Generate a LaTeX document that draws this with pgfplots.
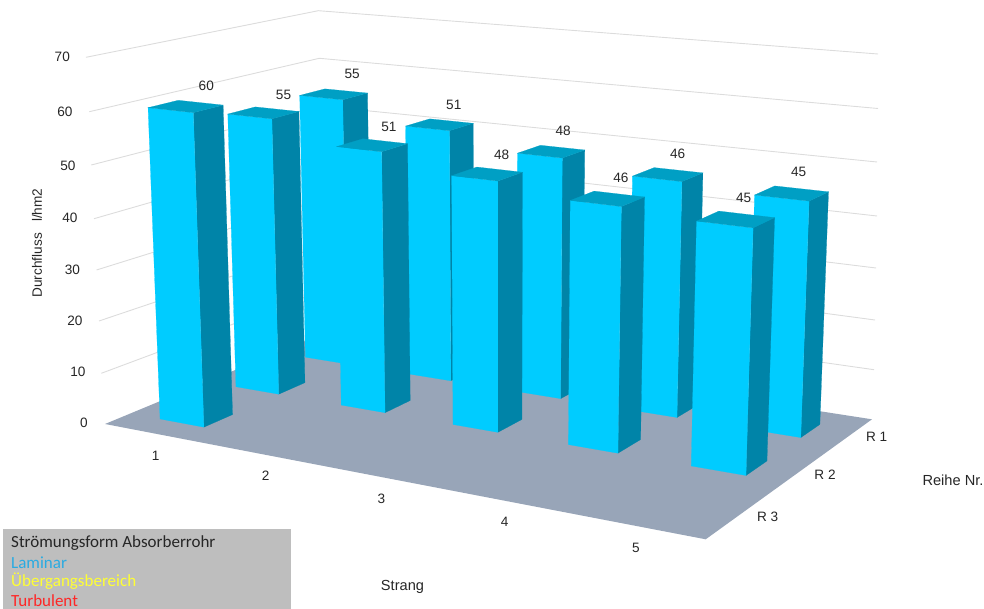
\documentclass[border=0pt]{standalone}
\usepackage{pgfplots}
\pgfplotsset{compat=1.18}
\usepackage{fontspec}
\setmainfont{Liberation Sans}
\newfontfamily\legendfont{Carlito}

\definecolor{barfront}{HTML}{00CCFF}
\definecolor{barside}{HTML}{0084A8}
\definecolor{bartop}{HTML}{009FC4}
\definecolor{floorcol}{HTML}{98A5B8}
\definecolor{gridcol}{HTML}{DCDCDC}
\definecolor{textcol}{HTML}{262626}
\definecolor{legendbg}{HTML}{BEBEBE}

\tikzset{
  lab/.style={font=\fontsize{13.6}{15}\selectfont, text=textcol, inner sep=0pt, anchor=center},
  ttl/.style={font=\fontsize{14.6}{16}\selectfont, text=textcol, inner sep=0pt, anchor=center},
  leg/.style={font=\legendfont\fontsize{17}{19}\selectfont, inner sep=0pt, anchor=west},
}

% Perspective projection of a chart position: u along the strands (0..1),
% w along the rows (0 front .. 1 back), t = value/70 as height.
\newcommand\project[5]{%
  \pgfmathsetmacro\projW{-0.15184*#1+0.13809*#2+1-0.04*#3}%
  \pgfmathsetmacro#4{(493.55*#1+261.47*#2+105-20*#3)/\projW}%
  \pgfmathsetmacro#5{(33.41*#1-43.88*#2+424-(370-8*#1)*#3)/\projW}%
}
\newcommand\face[9]{%
  \edef\facecmd{\noexpand\addplot[fill=#1, draw=#1, line width=0.2pt]
    coordinates {(#2,#3) (#4,#5) (#6,#7) (#8,#9)} --cycle;}\facecmd}

% One column: strand, row (1 = R 1 at the back), value, label shift right and down
\newcommand\column[5]{%
  \pgfmathsetmacro\uc{(#1-0.5)/5+0.003}%
  \pgfmathsetmacro\wc{(3.5-#2)/3}%
  \pgfmathsetmacro\ul{\uc-0.039-0.003*abs(#1-3)}\pgfmathsetmacro\ur{\uc+0.039}%
  \pgfmathsetmacro\wf{\wc-0.062}\pgfmathsetmacro\wb{\wc+0.062}%
  \pgfmathsetmacro\tv{#3/70}%
  \project{\ul}{\wf}{0}\ax\ay \project{\ur}{\wf}{0}\bx\by \project{\ur}{\wb}{0}\cx\cy
  \project{\ul}{\wf}{\tv}\dx\dy \project{\ur}{\wf}{\tv}\ex\ey
  \project{\ur}{\wb}{\tv}\fx\fy \project{\ul}{\wb}{\tv}\gx\gy
  \project{\uc}{\wc}{\tv}\hx\hy
  \face{barside}{\bx}{\by}{\cx}{\cy}{\fx}{\fy}{\ex}{\ey}%
  \face{barfront}{\ax}{\ay}{\bx}{\by}{\ex}{\ey}{\dx}{\dy}%
  \face{bartop}{\dx}{\dy}{\ex}{\ey}{\fx}{\fy}{\gx}{\gy}%
  \pgfmathsetmacro\lx{\hx+#4}\pgfmathsetmacro\ly{\hy-21+#5}%
  \edef\labcmd{\noexpand\node[lab] at (axis cs:\lx,\ly) {#3};}\labcmd
}
% Wall grid line for one value level
\newcommand\gridlevel[6]{%
  \addplot[gridcol, line width=0.9pt] coordinates {(#1,#2) (#3,#4) (#5,#6)};}

\begin{document}
\begin{tikzpicture}
\begin{axis}[
  scale only axis, width=984pt, height=609pt,
  xmin=0, xmax=984, ymin=0, ymax=609, y dir=reverse,
  hide axis, clip=false,
]
\path (axis cs:0,0) rectangle (axis cs:984,609);

% Walls
\gridlevel{86}{57.3}{318.3}{10.7}{878}{54}
\gridlevel{89.3}{111.7}{319.3}{58.3}{878}{108.5}
\gridlevel{91.3}{165}{320}{106}{877}{162}
\gridlevel{94}{218.7}{320.5}{153.5}{877}{216}
\gridlevel{96.5}{270}{321}{200}{876}{268}
\gridlevel{99}{321}{321.3}{246}{875}{320}
\gridlevel{101.3}{373.3}{321.7}{291}{874}{369.7}

% Floor
\addplot[fill=floorcol, draw=none] coordinates {(105,424) (705.7,539.3) (872,419.3) (322,334)} --cycle;

% Columns from the back row to the front: strand, row, value, label shifts
\column{1}{1}{55}{17}{1}
\column{2}{1}{51}{13.5}{1}
\column{3}{1}{48}{12}{0}
\column{4}{1}{46}{9}{0}
\column{5}{1}{45}{5}{-1}
\column{1}{2}{55}{18.5}{3}
\column{2}{2}{51}{16}{3}
\column{3}{2}{48}{14.5}{2}
\column{4}{2}{46}{12.5}{0}
\column{5}{2}{45}{6}{-1}
\column{1}{3}{60}{19}{0}

% Value axis
\node[lab] at (axis cs:62.3,57.3) {70};
\node[lab] at (axis cs:65,112) {60};
\node[lab] at (axis cs:68,165.7) {50};
\node[lab] at (axis cs:70,218.3) {40};
\node[lab] at (axis cs:72.5,270) {30};
\node[lab] at (axis cs:75,321) {20};
\node[lab] at (axis cs:78,372) {10};
\node[lab] at (axis cs:84,423) {0};
\node[lab, rotate=90] at (axis cs:37,243) {Durchfluss\ \ \ l/hm2};

% Strand axis
\node[lab] at (axis cs:155.7,456) {1};
\node[lab] at (axis cs:265.7,476) {2};
\node[lab] at (axis cs:381.3,499) {3};
\node[lab] at (axis cs:504.7,522.3) {4};
\node[lab] at (axis cs:636,548.3) {5};
\node[ttl] at (axis cs:402.5,587) {Strang};

% Row axis
\node[lab] at (axis cs:876.7,437.3) {R 1};
\node[lab] at (axis cs:825,475) {R 2};
\node[lab] at (axis cs:767.7,516.7) {R 3};
\node[ttl] at (axis cs:953,480) {Reihe Nr.};

% Flow regime box
\addplot[fill=legendbg, draw=none] coordinates {(3,529) (291,529) (291,609) (3,609)} --cycle;
\node[leg, text=black!85] at (axis cs:11,543) {Strömungsform Absorberrohr};
\node[leg, text={rgb,255:red,41;green,171;blue,226}] at (axis cs:11,563) {Laminar};
\node[leg, text={rgb,255:red,255;green,255;blue,51}] at (axis cs:11,581.5) {Übergangsbereich};
\node[leg, text={rgb,255:red,255;green,38;blue,38}] at (axis cs:11,600.5) {Turbulent};
\end{axis}
\end{tikzpicture}
\end{document}
